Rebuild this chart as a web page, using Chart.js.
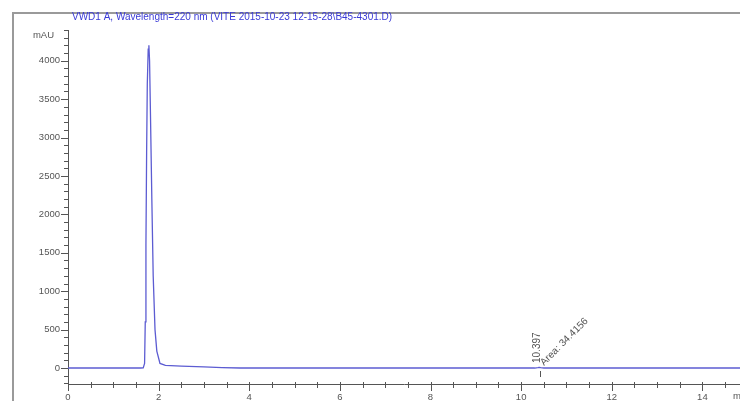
<!DOCTYPE html>
<html>
<head>
<meta charset="utf-8">
<script src="https://cdn.jsdelivr.net/npm/chart.js@4/dist/chart.umd.min.js"></script>
<style>
  html, body { margin: 0; padding: 0; background: #fff; }
  #wrap { position: relative; width: 740px; height: 401px; }
</style>
</head>
<body>
<div id="wrap"><canvas id="c" width="740" height="401"></canvas></div>
<script>
// Retention time (min) and detector signal (mAU) for the VWD1 A trace
const times  = [0, 1.60, 1.66, 1.69, 1.705, 1.72, 1.735, 1.75, 1.77, 1.785, 1.80, 1.82, 1.85, 1.88, 1.92, 1.96, 2.03, 2.15, 2.50, 3.00, 3.40, 3.80, 10.30, 10.37, 10.397, 10.43, 10.50, 14.83];
const signal = [0, 0,    2,    60,   600,   1600, 2800,  3700, 4150, 4200,  4000, 3300, 2200, 1200, 500,  220,  60,   35,   25,   15,   5,    0,    0,     5,     8,      4,     0,     0];

// Integrated peak annotation
const peakTime = 10.397;
const peakLabel = "10.397";
const areaLabel = "Area: 34.4156";

// Axis ranges and labelled ticks
const xRange = [0, 14.83];
const yRange = [-208, 4400];
const xTickLabels = [0, 2, 4, 6, 8, 10, 12, 14];
const yTickLabels = [0, 500, 1000, 1500, 2000, 2500, 3000, 3500, 4000];

const titleText = "VWD1 A, Wavelength=220 nm (VITE 2015-10-23 12-15-28\\B45-4301.D)";
const yUnit = "mAU";
const xUnit = "min";

const FONT = "'Liberation Sans', Arial, sans-serif";

const decor = {
  id: 'decor',
  beforeDraw(chart) {
    const ctx = chart.ctx;
    ctx.save();
    ctx.fillStyle = '#fff';
    ctx.fillRect(0, 0, chart.width, chart.height);
    // outer frame
    ctx.strokeStyle = '#9a9a9a';
    ctx.lineWidth = 2;
    ctx.beginPath();
    ctx.moveTo(13, chart.height + 2);
    ctx.lineTo(13, 13);
    ctx.lineTo(chart.width + 2, 13);
    ctx.stroke();
    ctx.restore();
  },
  afterDraw(chart) {
    const ctx = chart.ctx;
    const xs = chart.scales.x, ys = chart.scales.y;
    const left = chart.chartArea.left, bottom = chart.chartArea.bottom;
    ctx.save();
    ctx.strokeStyle = '#555';
    ctx.lineWidth = 1;
    ctx.beginPath();
    // y ticks every 100, long every 500
    for (let v = -200; v <= yRange[1]; v += 100) {
      const y = Math.round(ys.getPixelForValue(v)) + 0.5;
      const len = (v % 500 === 0) ? 7 : 4;
      ctx.moveTo(left - len, y);
      ctx.lineTo(left, y);
    }
    // x ticks every 0.5 min, long every 2 min
    for (let k = 0; k * 0.5 <= xRange[1]; k++) {
      const t = k * 0.5;
      const x = Math.round(xs.getPixelForValue(t)) + 0.5;
      const major = (t % 2 === 0);
      ctx.moveTo(x, bottom - 2);
      ctx.lineTo(x, bottom + (major ? 7 : 4));
    }
    ctx.stroke();

    // unit labels
    ctx.fillStyle = '#555';
    ctx.font = '9.5px ' + FONT;
    ctx.textAlign = 'right';
    ctx.textBaseline = 'middle';
    ctx.fillText(yUnit, 54, 35);
    ctx.textAlign = 'left';
    ctx.textBaseline = 'top';
    ctx.fillText(xUnit, 733, 392);

    // title
    ctx.fillStyle = '#3a3ad6';
    ctx.font = '10px ' + FONT;
    ctx.textAlign = 'left';
    ctx.textBaseline = 'middle';
    ctx.fillText(titleText, 72, 17);

    // peak annotation
    const px = xs.getPixelForValue(peakTime);
    const py = ys.getPixelForValue(0);
    ctx.strokeStyle = '#555';
    ctx.beginPath();
    ctx.moveTo(Math.round(px) + 1.5, py + 3);
    ctx.lineTo(Math.round(px) + 1.5, py + 9);
    ctx.stroke();
    ctx.fillStyle = '#555';
    ctx.font = '10px ' + FONT;
    ctx.textBaseline = 'middle';
    ctx.save();
    ctx.translate(px - 2, py - 5);
    ctx.rotate(-Math.PI / 2);
    ctx.textAlign = 'left';
    ctx.fillText(peakLabel, 0, 0);
    ctx.restore();
    ctx.save();
    ctx.translate(px + 3, py - 4);
    ctx.rotate(-Math.PI / 4);
    ctx.textAlign = 'left';
    ctx.fillText(areaLabel, 0, 0);
    ctx.restore();
    ctx.restore();
  }
};

new Chart(document.getElementById('c'), {
  type: 'scatter',
  data: {
    datasets: [{
      data: times.map((t, i) => ({ x: t, y: signal[i] })),
      showLine: true,
      borderColor: '#5c5cd2',
      borderWidth: 1.3,
      pointRadius: 0,
      tension: 0
    }]
  },
  options: {
    responsive: false,
    animation: false,
    devicePixelRatio: 1,
    layout: { padding: { left: 0, right: 0, top: 30, bottom: 0 } },
    plugins: { legend: { display: false }, tooltip: { enabled: false } },
    scales: {
      x: {
        type: 'linear',
        min: xRange[0], max: xRange[1],
        grid: { display: false, drawTicks: false },
        border: { display: true, color: '#555', width: 1 },
        afterBuildTicks: s => { s.ticks = xTickLabels.map(v => ({ value: v })); },
        ticks: {
          autoSkip: false,
          maxRotation: 0,
          padding: 8,
          color: '#555',
          font: { family: FONT, size: 9.5 },
          callback: v => String(v)
        },
        afterFit: s => { s.height = 17; }
      },
      y: {
        type: 'linear',
        min: yRange[0], max: yRange[1],
        grid: { display: false, drawTicks: false },
        border: { display: true, color: '#555', width: 1 },
        afterBuildTicks: s => { s.ticks = yTickLabels.map(v => ({ value: v })); },
        ticks: {
          autoSkip: false,
          padding: 8,
          color: '#555',
          font: { family: FONT, size: 9.5 },
          callback: v => String(v)
        },
        afterFit: s => { s.width = 68; }
      }
    }
  },
  plugins: [decor]
});
</script>
</body>
</html>
